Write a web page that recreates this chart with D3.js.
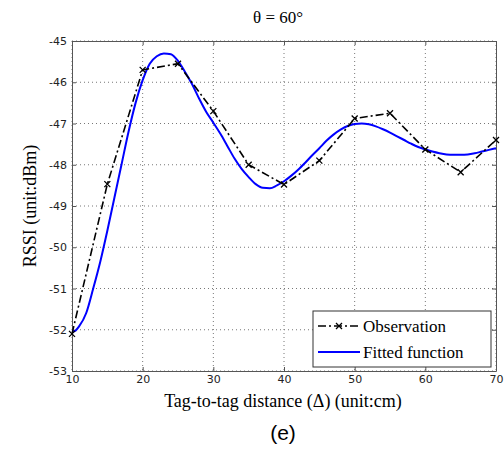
<!DOCTYPE html>
<html><head><meta charset="utf-8">
<script src="https://cdn.jsdelivr.net/npm/d3@7"></script>
<style>body{margin:0;background:#fff}</style>
</head><body>
<script>
const obsX = [10,15,20,25,30,35,40,45,50,55,60,65,70];
const obsY = [-52.1,-48.47,-45.7,-45.55,-46.7,-48.0,-48.48,-47.9,-46.88,-46.75,-47.63,-48.18,-47.4];
const fitX = [10,10.5,11,12,13,14,15,16,17,18,19,20,21,22,23,24,25,26,27,28,29,30,31,32,33,34,35,36,37,38,39,40,41,42,43,44,45,46,47,48,49,50,51,52,53,54,55,56,57,58,59,60,61,62,63,64,65,66,67,68,69,70];
const fitY = [-52.05,-52.02,-51.92,-51.6,-51.0,-50.35,-49.6,-48.8,-48.0,-47.2,-46.5,-45.95,-45.55,-45.37,-45.3,-45.32,-45.48,-45.75,-46.05,-46.4,-46.72,-46.98,-47.25,-47.55,-47.85,-48.1,-48.3,-48.47,-48.56,-48.57,-48.5,-48.4,-48.27,-48.12,-47.95,-47.77,-47.6,-47.42,-47.27,-47.15,-47.06,-47.01,-47.0,-47.02,-47.07,-47.14,-47.22,-47.31,-47.4,-47.49,-47.57,-47.63,-47.68,-47.72,-47.75,-47.76,-47.76,-47.75,-47.72,-47.68,-47.64,-47.6];
const xTicks = [10,20,30,40,50,60,70];
const yTicks = [-45,-46,-47,-48,-49,-50,-51,-52,-53];
const legendLabels = ["Observation","Fitted function"];

const W=504,H=449, L=72,R=496,T=41,B=371;
const svg=d3.select("body").append("svg").attr("width",W).attr("height",H);
const x=d3.scaleLinear().domain([10,70]).range([L,R]);
const y=d3.scaleLinear().domain([-53,-45]).range([B,T]);
const axCol="#555", gridCol="#777";

// grid
const g=svg.append("g");
g.selectAll(".gx").data(xTicks).join("line").attr("x1",d=>x(d)).attr("x2",d=>x(d)).attr("y1",T).attr("y2",B)
 .attr("stroke",gridCol).attr("stroke-width",1).attr("stroke-dasharray","1,3");
g.selectAll(".gy").data(yTicks).join("line").attr("y1",d=>y(d)).attr("y2",d=>y(d)).attr("x1",L).attr("x2",R)
 .attr("stroke",gridCol).attr("stroke-width",1).attr("stroke-dasharray","1,3");

// axes
const fmt=d=>String(d);
const xa=svg.append("g").attr("transform",`translate(0,${B})`).call(d3.axisBottom(x).tickValues(xTicks).tickSizeInner(-4).tickSizeOuter(0).tickPadding(4).tickFormat(fmt));
const ya=svg.append("g").attr("transform",`translate(${L},0)`).call(d3.axisLeft(y).tickValues(yTicks).tickSizeInner(-4).tickSizeOuter(0).tickPadding(5).tickFormat(fmt));
[xa,ya].forEach(a=>{a.select(".domain").attr("stroke",axCol);a.selectAll(".tick line").attr("stroke",axCol);
 a.selectAll("text").attr("font-family","DejaVu Sans, sans-serif").attr("font-size",11).attr("fill","#222");});
// top and right ticks
svg.append("g").attr("transform",`translate(0,${T})`).call(d3.axisTop(x).tickValues(xTicks).tickSizeInner(-4).tickSizeOuter(0).tickFormat(""))
 .call(a=>{a.select(".domain").attr("stroke",axCol);a.selectAll(".tick line").attr("stroke",axCol);});
svg.append("g").attr("transform",`translate(${R},0)`).call(d3.axisRight(y).tickValues(yTicks).tickSizeInner(-4).tickSizeOuter(0).tickFormat(""))
 .call(a=>{a.select(".domain").attr("stroke",axCol);a.selectAll(".tick line").attr("stroke",axCol);});

// fitted
const fitData=fitX.map((d,i)=>[d,fitY[i]]);
svg.append("path").datum(fitData).attr("fill","none").attr("stroke","#0000ff").attr("stroke-width",2)
 .attr("d",d3.line().x(d=>x(d[0])).y(d=>y(d[1])).curve(d3.curveMonotoneX));
// observation
const obsData=obsX.map((d,i)=>[d,obsY[i]]);
svg.append("path").datum(obsData).attr("fill","none").attr("stroke","#000").attr("stroke-width",1.6)
 .attr("stroke-dasharray","8,3,2,3").attr("d",d3.line().x(d=>x(d[0])).y(d=>y(d[1])));
const mk=svg.append("g");
obsData.forEach(d=>{const cx=x(d[0]),cy=y(d[1]),s=3;
 mk.append("path").attr("d",`M${cx-s},${cy-s}L${cx+s},${cy+s}M${cx-s},${cy+s}L${cx+s},${cy-s}`).attr("stroke","#000").attr("stroke-width",1.3);});

// legend
const lg=svg.append("g");
lg.append("rect").attr("x",313).attr("y",311).attr("width",178).attr("height",56).attr("fill","#fff").attr("stroke","#333").attr("stroke-width",1);
lg.append("line").attr("x1",318).attr("x2",360).attr("y1",326).attr("y2",326).attr("stroke","#000").attr("stroke-width",1.6).attr("stroke-dasharray","8,3,2,3");
lg.append("path").attr("d","M336,323L342,329M336,329L342,323").attr("stroke","#000").attr("stroke-width",1.3);
lg.append("line").attr("x1",318).attr("x2",360).attr("y1",352).attr("y2",352).attr("stroke","#0000ff").attr("stroke-width",2);
lg.selectAll("text").data(legendLabels).join("text").attr("x",363).attr("y",(d,i)=>332+i*26).text(d=>d)
 .attr("font-family","Liberation Serif, serif").attr("font-size",17).attr("fill","#000");

// titles
svg.append("text").attr("x",278).attr("y",23).attr("text-anchor","middle").attr("font-family","Liberation Serif, serif").attr("font-size",17).text("θ = 60°");
svg.append("text").attr("x",283).attr("y",407).attr("text-anchor","middle").attr("font-family","Liberation Serif, serif").attr("font-size",18).text("Tag-to-tag distance (Δ) (unit:cm)");
svg.append("text").attr("transform","translate(36,206) rotate(-90)").attr("text-anchor","middle").attr("font-family","Liberation Serif, serif").attr("font-size",18).text("RSSI (unit:dBm)");
svg.append("text").attr("x",283).attr("y",440).attr("text-anchor","middle").attr("font-family","Liberation Sans, Arial, sans-serif").attr("font-size",21).text("(e)");
</script>
</body></html>
